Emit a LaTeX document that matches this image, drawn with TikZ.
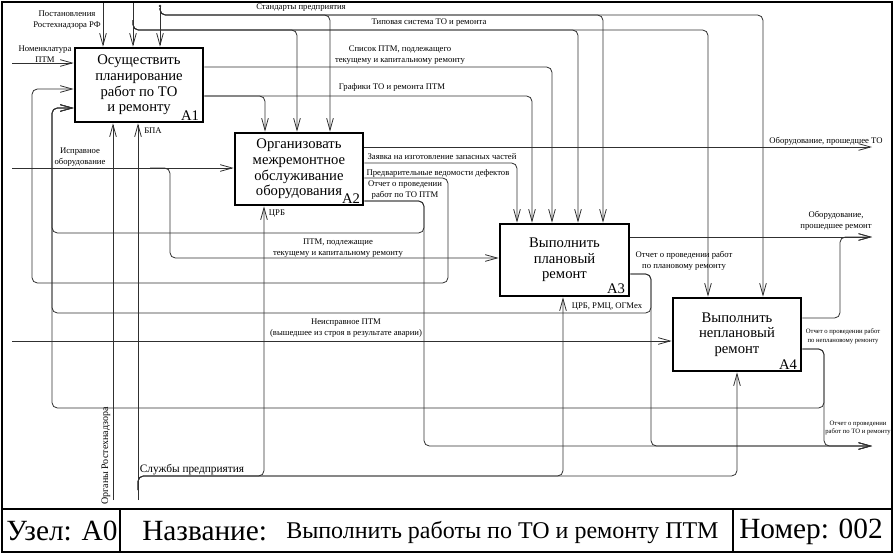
\documentclass[tikz,border=0pt]{standalone}
\usepackage{fontspec}
\setmainfont{Liberation Serif}
\usepackage{tikz}
\usetikzlibrary{arrows.meta,positioning}

\begin{document}
\begin{tikzpicture}[x=0.75pt,y=-0.75pt,
    funcBox/.style={draw, line width=2pt, minimum width=96pt, minimum height=54pt,
      align=center, inner sep=0pt, font=\fontsize{11}{11.8}\selectfont},
    boxNum/.style={anchor=south east, inner sep=0pt, font=\fontsize{11}{11}\selectfont},
    arr/.style={draw=lineCol, line width=0.6pt, rounded corners=4pt,
      -{Straight Barb[length=9pt,width=5pt]}},
    lbl/.style={inner sep=0.5pt, align=center, font=\fontsize{6.5}{8}\selectfont},
    lblSmall/.style={inner sep=0.5pt, align=center, font=\fontsize{5}{6.5}\selectfont},
    barText/.style={anchor=west, inner sep=0pt, font=\fontsize{22}{22}\selectfont}]
  \definecolor{lineCol}{HTML}{303030}

  \useasboundingbox (0,0) rectangle (894,554);
  % frame and title bar
  \draw[line width=1.8pt] (2,2) rectangle (892,552);
  \draw[line width=1.5pt] (2,509) -- (892,509);
  \draw[line width=1.2pt] (120,509) -- (120,552);
  \draw[line width=1.2pt] (733,509) -- (733,552);
  \node[barText] (node0) at (6,531) {Узел: А0};
  \node[barText] (title) at (142,531) {Название:};
  \node[barText, font=\fontsize{18}{18}\selectfont] (titleText) at (286,532) {Выполнить работы по ТО и ремонту ПТМ};
  \node[barText] (number) at (739,532) {Номер: 002};

  % functions
  \node[funcBox, minimum height=55.5pt] (A1) at (139,85) {Осуществить\\планирование\\работ по ТО\\и ремонту};
  \node[funcBox] (A2) at (299,169) {Организовать\\межремонтное\\обслуживание\\оборудования};
  \node[funcBox, minimum width=96.75pt] (A3) at (564.5,260) {Выполнить\\плановый\\ремонт};
  \node[funcBox, minimum height=54.75pt] (A4) at (737,334.5) {Выполнить\\неплановый\\ремонт};
  \node[boxNum] (num1) at ([shift={(-5,-3)}]A1.south east) {A1};
  \node[boxNum] (num2) at ([shift={(-4,-3)}]A2.south east) {A2};
  \node[boxNum] (num3) at ([shift={(-5,-3)}]A3.south east) {A3};
  \node[boxNum] (num4) at ([shift={(-5,-3)}]A4.south east) {A4};

  % free ends on the border
  \coordinate (postT) at (103,3);
  \coordinate (tipT) at (133,3);
  \coordinate (stdT) at (160,6);
  \coordinate (nomL) at (12,63);
  \coordinate (ispL) at (12,168);
  \coordinate (neispL) at (12,341);
  \coordinate (orgB) at (113,500);
  \coordinate (slB) at (138,500);
  \coordinate (eqToR) at (872,147);
  \coordinate (eqRemR) at (872,237);
  \coordinate (repR) at (872,446);

  % controls
  \draw[arr] (postT) -- (A1.north -| postT);
  \draw[arr] (tipT) -- (A1.north -| tipT);
  \draw[arr] (133,20) |- (297,30) -- (A2.north -| 297,0);
  \draw[arr] (133,20) |- (578,30) -- (A3.north -| 578,0);
  \draw[arr] (133,20) |- (708,30) -- (A4.north -| 708,0);
  \draw[arr] (stdT) -- (A1.north -| stdT);
  \fill[lineCol] (stdT) circle (1.3);
  \draw[arr] (160,8) |- (330,15) -- (A2.north -| 330,0);
  \draw[arr] (160,8) |- (603,15) -- (A3.north -| 603,0);
  \draw[arr] (160,8) |- (763,15) -- (A4.north -| 763,0);
  \draw[arr] (A1.east |- 0,67) -| (A3.north -| 552,0);
  \draw[arr] (A1.east |- 0,96) -| (A2.north -| 265,0);
  \draw[arr] (A1.east |- 0,96) -| (A3.north -| 532,0);
  \draw[arr] (A2.east |- 0,163) -| (A3.north -| 517,0);

  % inputs
  \draw[arr] (nomL) -- (A1.west |- nomL);
  \draw[arr] (ispL) -- (A2.west |- ispL);
  \draw[arr] (150,168) -| (170,258) -- (A3.west |- 0,258);
  \draw[arr] (neispL) -- (A4.west |- neispL);

  % outputs and feedback
  \draw[arr] (A2.east |- 0,147) -- (eqToR);
  \draw[arr] (A2.east |- 0,178) -| (448,283) -| (32,150) |- (A1.west |- 0,89);
  \draw[arr] (A2.east |- 0,201) -| (424,233) -| (52,150) |- (A1.west |- 0,108);
  \draw[arr] (A2.east |- 0,201) -| (424,446) -- (repR);
  \draw[arr] (A3.east |- 0,237) -- (eqRemR);
  \draw[arr] (A3.east |- 0,274) -| (651,313) -| (52,150) |- (A1.west |- 0,108);
  \draw[arr] (A3.east |- 0,274) -| (651,446) -- (repR);
  \draw[arr] (A4.east |- 0,318) -| (840,237) -- (eqRemR);
  \draw[arr] (A4.east |- 0,349) -| (824,408) -| (52,150) |- (A1.west |- 0,108);
  \draw[arr] (A4.east |- 0,349) -| (824,446) -- (repR);

  % mechanisms
  \draw[arr] (orgB) -- (A1.south -| orgB);
  \draw[arr] (slB) -- (A1.south -| slB);
  \draw[arr] (138,490) |- (264,476) -- (A2.south -| 264,0);
  \draw[arr] (138,490) |- (563,476) -- (A3.south -| 563,0);
  \draw[arr] (138,490) |- (737,476) -- (A4.south -| 737,0);

  % labels
  \node[lbl] (lPost) at (67,20) {Постановления\\Ростехнадзора РФ};
  \node[lbl] (lNom) at (45,54) {Номенклатура\\ПТМ};
  \node[lbl] (lStd) at (301,8) {Стандарты предприятия};
  \node[lbl] (lTip) at (429,23) {Типовая система ТО и ремонта};
  \node[lbl] (lList) at (400,55) {Список ПТМ, подлежащего\\текущему и капитальному ремонту};
  \node[lbl] (lGraph) at (392,87) {Графики ТО и ремонта ПТМ};
  \node[lbl] (lBpa) at (153,131) {БПА};
  \node[lbl] (lIsp) at (80,157) {Исправное\\оборудование};
  \node[lbl] (lCrb) at (277,214) {ЦРБ};
  \node[lbl] (lReq) at (442,157) {Заявка на изготовление запасных частей};
  \node[lbl] (lPre) at (438,173) {Предварительные ведомости дефектов};
  \node[lbl] (lRepTO) at (405,190) {Отчет о проведении\\работ по ТО ПТМ};
  \node[lbl] (lEqTO) at (826,141) {Оборудование, прошедшее ТО};
  \node[lbl] (lEqRem) at (836,221) {Оборудование,\\прошедшее ремонт};
  \node[lbl] (lPtm) at (338,248) {ПТМ, подлежащие\\текущему и капитальному ремонту};
  \node[lbl] (lRepPl) at (684,261) {Отчет о проведении работ\\по плановому ремонту};
  \node[lbl] (lCrb3) at (607,307) {ЦРБ, РМЦ, ОГМех};
  \node[lbl] (lNeisp) at (346,328) {Неисправное ПТМ\\(вышедшее из строя в результате аварии)};
  \node[lblSmall] (lRepNpl) at (843,336) {Отчет о проведении работ\\по неплановому ремонту};
  \node[lblSmall] (lRepAll) at (858,428) {Отчет о проведении\\работ по ТО и ремонту};
  \node[lbl, rotate=90, font=\fontsize{7.5}{8}\selectfont] (lOrg) at (106,456) {Органы Ростехнадзора};
  \node[lbl, font=\fontsize{8.5}{9}\selectfont] (lServ) at (192,470) {Службы предприятия};
\end{tikzpicture}
\end{document}
